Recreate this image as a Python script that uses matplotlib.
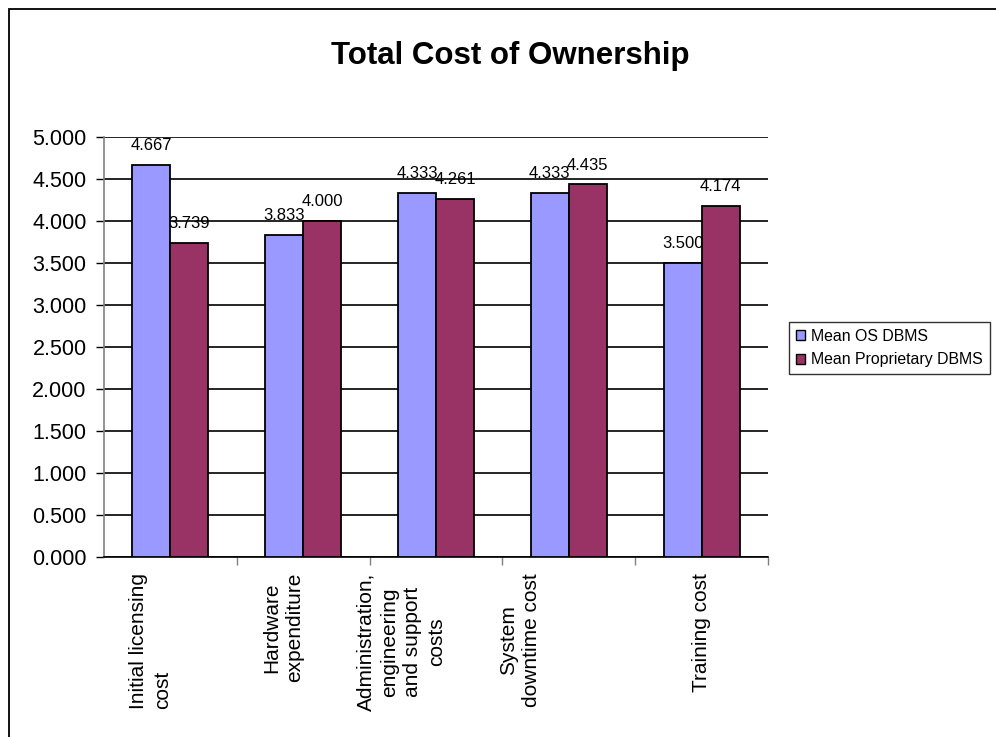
import matplotlib
matplotlib.use("Agg")
import matplotlib.pyplot as plt
import matplotlib.transforms as mtransforms
from matplotlib.patches import Rectangle
import numpy as np

plt.rcParams["font.family"] = ["Liberation Sans", "DejaVu Sans"]

# Data
categories = [
    "Initial licensing\ncost",
    "Hardware\nexpenditure",
    "Administration,\nengineering\nand support\ncosts",
    "System\ndowntime cost",
    "Training cost",
]
series_names = ["Mean OS DBMS", "Mean Proprietary DBMS"]
os_dbms = [4.667, 3.833, 4.333, 4.333, 3.500]
prop_dbms = [3.739, 4.000, 4.261, 4.435, 4.174]

colors = ["#9999FF", "#993366"]

W, H = 996, 737
fig = plt.figure(figsize=(W / 100, H / 100), dpi=100)

# plot area in pixel terms
left, right, top, bottom = 104, 768, 137, 557
ax = fig.add_axes([left / W, 1 - bottom / H, (right - left) / W, (bottom - top) / H])

x = np.arange(len(categories))
bw = 1 / 3.5
bars1 = ax.bar(x - bw / 2, os_dbms, bw, color=colors[0], edgecolor="black",
               linewidth=1.3, zorder=3, label=series_names[0])
bars2 = ax.bar(x + bw / 2, prop_dbms, bw, color=colors[1], edgecolor="black",
               linewidth=1.3, zorder=3, label=series_names[1])

# value labels above each bar (drawn beneath the bars)
for bars, vals in ((bars1, os_dbms), (bars2, prop_dbms)):
    for b, v in zip(bars, vals):
        ax.annotate(f"{v:.3f}", (b.get_x() + b.get_width() / 2, v),
                    xytext=(0, 14), textcoords="offset points",
                    ha="center", va="center", fontsize=12, zorder=2)

ax.set_xlim(-0.5, len(categories) - 0.5)
ax.set_ylim(0, 5)
ax.set_yticks(np.arange(0, 5.01, 0.5))
ax.set_yticklabels([f"{t:.3f}" for t in np.arange(0, 5.01, 0.5)], fontsize=15.5)
ax.yaxis.grid(True, color="black", linewidth=1.2, zorder=1)
ax.set_axisbelow(True)
ax.tick_params(axis="y", length=6, width=1, pad=6.5, color="black")

# category boundary ticks, labels placed by hand
ax.set_xticks(np.arange(0.5, len(categories) - 0.5, 1).tolist() + [len(categories) - 0.5])
ax.set_xticklabels([])
ax.tick_params(axis="x", length=6, width=1, color="#808080")

for s in ("top", "right"):
    ax.spines[s].set_visible(False)
ax.spines["left"].set_color("#808080")
ax.spines["left"].set_linewidth(1.2)
ax.spines["bottom"].set_color("black")
ax.spines["bottom"].set_linewidth(1.2)

label_nudge = [-20, -20, -35, -49, 0]
label_align = ["left", "center", "center", "center", "center"]
for i, (cat, dx, ma) in enumerate(zip(categories, label_nudge, label_align)):
    tr = mtransforms.blended_transform_factory(ax.transData, ax.transAxes) + \
        mtransforms.ScaledTranslation(dx / 100, -16 / 100, fig.dpi_scale_trans)
    ax.text(i, 0, cat, transform=tr, rotation=90, ha="center", va="top",
            multialignment=ma, fontsize=15, linespacing=1.3)

# title
fig.text(510 / W, 1 - 56 / H, "Total Cost of Ownership", ha="center",
         va="center", fontsize=22.5, fontweight="bold")

# legend
leg = fig.legend(loc="center left", bbox_to_anchor=(789 / W, 1 - 348 / H),
                 fontsize=11.4, frameon=True, fancybox=False, handlelength=0.6,
                 handleheight=0.6, handletextpad=0.4, labelspacing=0.55,
                 borderpad=0.42, borderaxespad=0)
leg.get_frame().set_edgecolor("black")
leg.get_frame().set_linewidth(1.0)
for h in leg.legend_handles:
    h.set_linewidth(1.0)

# outer chart border
fig.patches.append(Rectangle((9 / W, -0.1), 1.2, 1.1 - 9 / H, transform=fig.transFigure,
                             fill=False, edgecolor="black", linewidth=1.3))

fig.savefig("out.png", dpi=100)
